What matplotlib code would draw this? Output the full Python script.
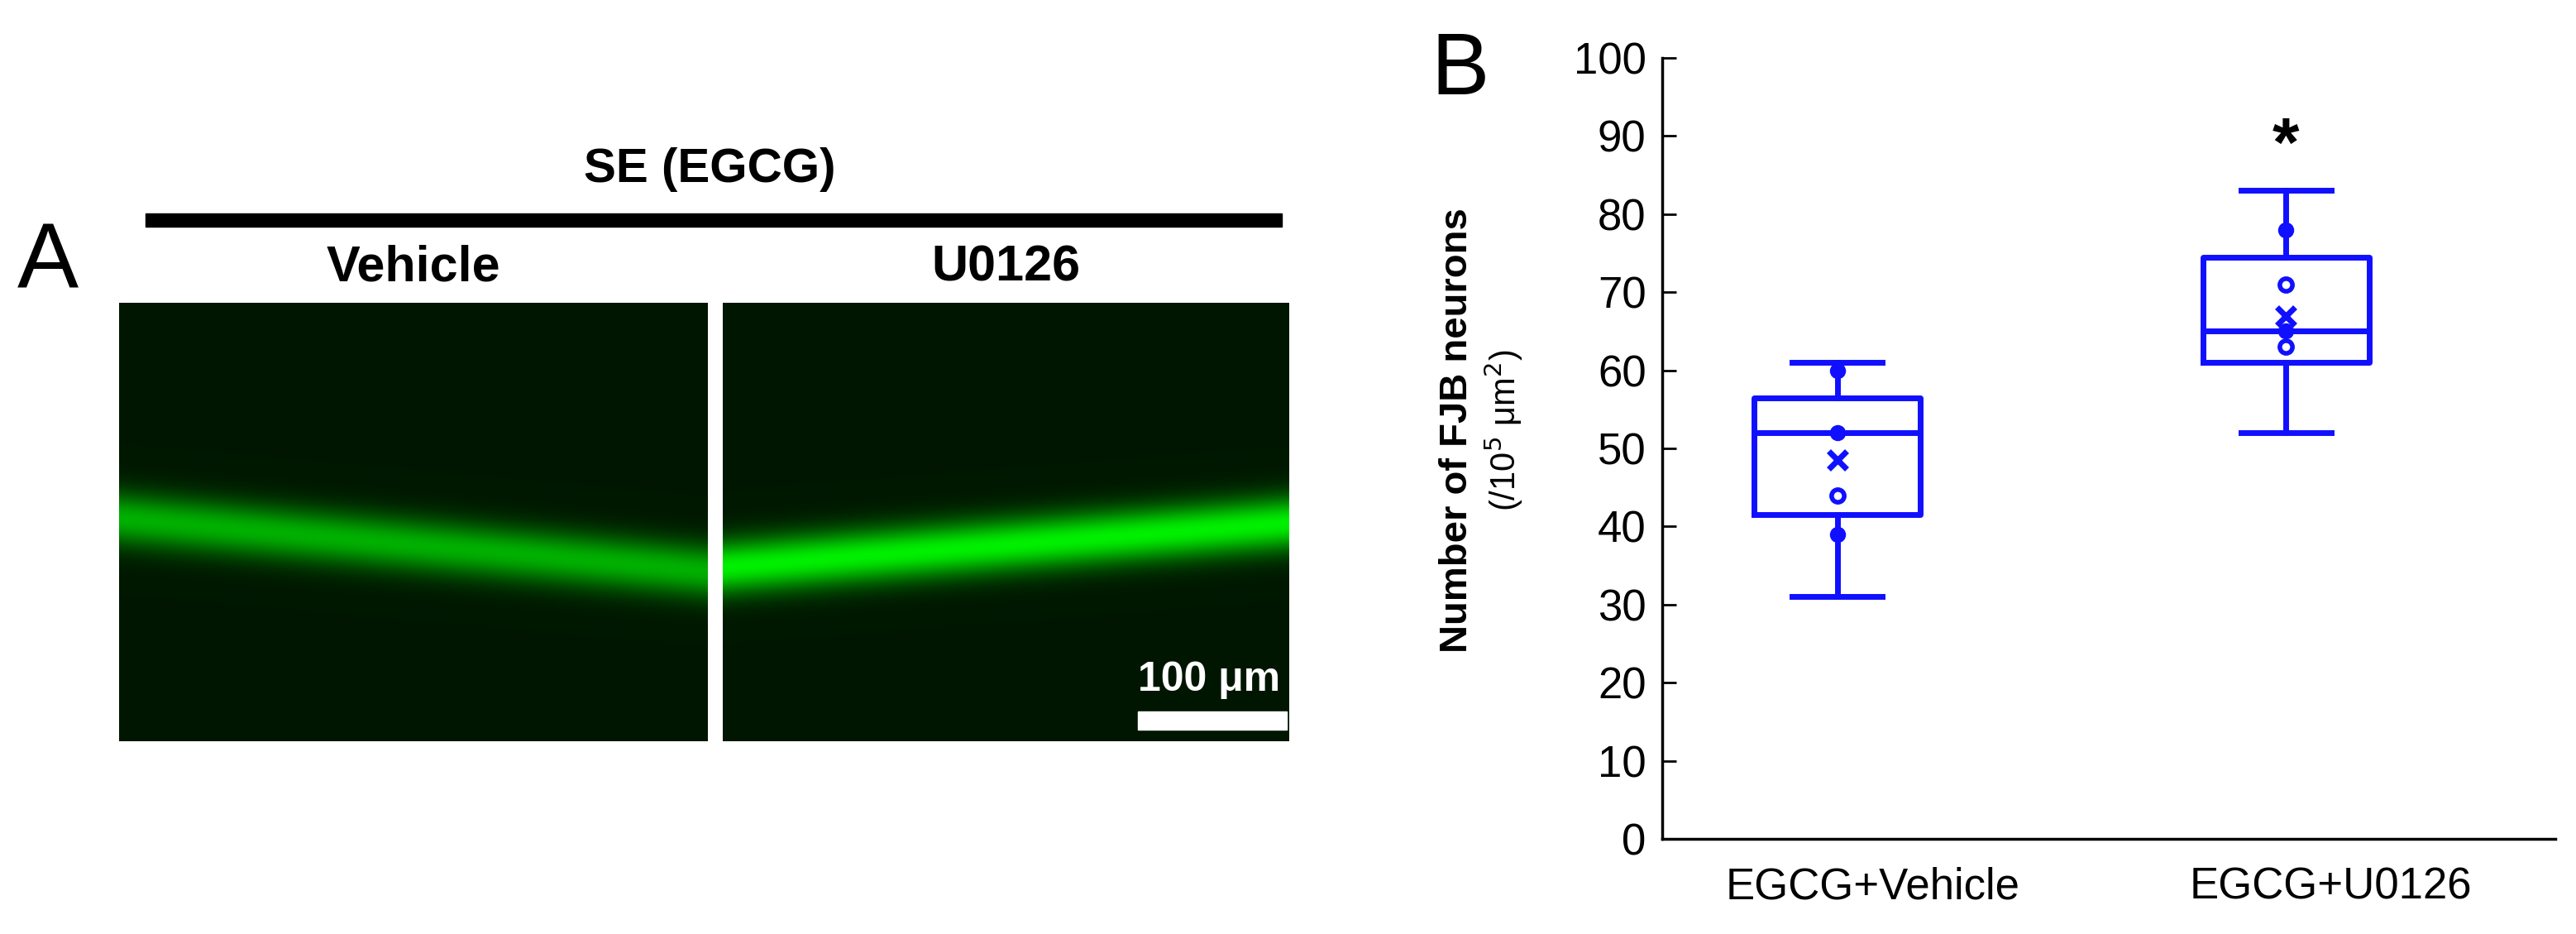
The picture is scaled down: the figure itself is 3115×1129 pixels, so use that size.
import numpy as np
import matplotlib
matplotlib.use("Agg")
import matplotlib.pyplot as plt
from matplotlib.patches import Rectangle

plt.rcParams['font.family'] = ['Liberation Sans', 'DejaVu Sans']

categories = ["EGCG+Vehicle", "EGCG+U0126"]
whislo = [31, 52]
q1 = [41.5, 61]
med = [52, 65]
q3 = [56.5, 74.5]
whishi = [61, 83]
means = [48.5, 67]
filled_pts = [[60, 52, 39], [78, 65]]
open_pts = [[44], [71, 63]]
yticks = list(range(0, 101, 10))

W, H = 3115, 1129
fig = plt.figure(figsize=(W/100, H/100), dpi=100)
blue = '#1010FF'

# Panel A: placeholder fluorescence panels
def img(strength, tilt):
    yy, xx = np.mgrid[0:200, 0:200] / 200.0
    center = 0.55 + tilt * (xx - 0.5)
    band = np.exp(-((yy - center) / 0.06) ** 2) * strength
    g = np.clip(0.09 + band, 0, 1)
    rgb = np.zeros((200, 200, 3))
    rgb[..., 1] = g
    return rgb

for (x0, x1, s, t) in [(144, 856, 0.6, 0.12), (874, 1558, 0.85, -0.1)]:
    ax_i = fig.add_axes([x0/W, 1-896/H, (x1-x0)/W, (896-366)/H])
    ax_i.imshow(img(s, t), aspect='auto')
    ax_i.axis('off')

fig.text(58/W, 1-318/H, "A", fontsize=80, ha='center', va='center')
fig.text(858/W, 1-205/H, "SE (EGCG)", fontsize=42, fontweight='bold', ha='center', va='center')
fig.add_artist(Rectangle((176/W, 1-274/H), (1550-176)/W, 16/H, transform=fig.transFigure, color='black'))
fig.text(500/W, 1-324/H, "Vehicle", fontsize=44, fontweight='bold', ha='center', va='center')
fig.text(1216/W, 1-324/H, "U0126", fontsize=44, fontweight='bold', ha='center', va='center')
fig.text(1462/W, 1-822/H, "100 μm", fontsize=36, fontweight='bold', color='white', ha='center', va='center')
fig.add_artist(Rectangle((1376/W, 1-882/H), 180/W, 22/H, transform=fig.transFigure, color='white'))

fig.text(1766/W, 1-86/H, "B", fontsize=76, ha='center', va='center')

# Panel B
ax = fig.add_axes([2010/W, 1-1014/H, (3090-2010)/W, (1014-70)/H])
stats = [dict(whislo=whislo[i], q1=q1[i], med=med[i], q3=q3[i], whishi=whishi[i], label=categories[i])
         for i in range(2)]
pos = [1, 2]
ax.bxp(stats, positions=pos, widths=0.37, showfliers=False, showcaps=True,
       boxprops=dict(color=blue, lw=5), whiskerprops=dict(color=blue, lw=5),
       capprops=dict(color=blue, lw=5), medianprops=dict(color=blue, lw=5), capwidths=0.2)
for i in range(2):
    ax.plot([pos[i]]*len(filled_pts[i]), filled_pts[i], 'o', color=blue, ms=13)
    ax.plot([pos[i]]*len(open_pts[i]), open_pts[i], 'o', mfc='white', mec=blue, mew=4, ms=11)
    ax.plot(pos[i], means[i], 'x', color=blue, ms=16, mew=5)
ax.text(2, 88.5, "*", fontsize=60, fontweight='bold', ha='center', va='center')
ax.set_xlim(0.61, 2.6)
ax.set_xticks([1.08, 2.1])
ax.set_xticklabels(categories)
ax.set_ylim(0, 100)
ax.set_yticks(yticks)
ax.tick_params(axis='y', labelsize=38, length=12, width=2, direction='in', pad=14)
ax.tick_params(axis='x', labelsize=38, length=0, pad=24)
for s in ['top', 'right']:
    ax.spines[s].set_visible(False)
for s in ['left', 'bottom']:
    ax.spines[s].set_linewidth(2.5)
fig.text(1762/W, 1-520/H, "Number of FJB neurons", fontsize=34, fontweight='bold', rotation=90, ha='center', va='center')
fig.text(1818/W, 1-520/H, "(/10$^5$ μm$^2$)", fontsize=30, rotation=90, ha='center', va='center')

fig.savefig("out.png", dpi=100)
